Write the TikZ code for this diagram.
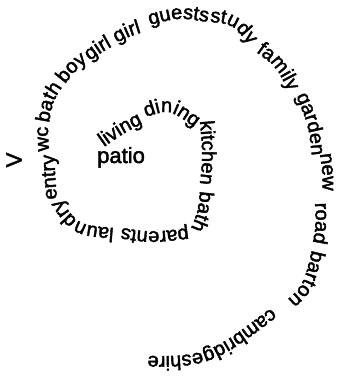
\documentclass[tikz,border=0pt]{standalone}
\usepackage{fontspec}
\setmainfont{Liberation Sans}[FakeBold=2]
\usepackage{tikz}
\usetikzlibrary{decorations.text}
\newcommand{\spiralfont}{\fontsize{20}{24}\selectfont}
\newcommand{\patiofont}{\fontsize{22}{26}\selectfont}
\tikzset{
  roomlabel/.style={inner sep=0pt, font=\patiofont},
  spiraltext/.style={decorate, decoration={text along path,
    text align={left indent=0pt}, text={|\spiralfont|#1}}}
}
\begin{document}
\begin{tikzpicture}[x=1pt, y=-1pt]
  \useasboundingbox (0,0) rectangle (339,383);

  % Centre and entrance mark
  \node[roomlabel, anchor=base west] (patio) at (97,163) {patio};
  \node[roomlabel, rotate=90] (entrance) at (14,160) {V};

  % Inner turn
  \path[spiraltext=living]  (104,147) .. controls (124,133) .. (150,120);
  \path[spiraltext=dining]  (146,117) .. controls (170,109) .. (199,131);
  \path[spiraltext=kitchen] (200,121) .. controls (203,158) .. (198,200);
  \path[spiraltext=bath]    (200,191) .. controls (198,212) .. (186,240);
  \path[spiraltext=parents] (188,228) .. controls (150,233) .. (100,224);
  \path[spiraltext=laundry] (114,228) .. controls (77,225) .. (55,190);
  \path[spiraltext=entry]   (57,199) .. controls (55,175) .. (54,140);
  \path[spiraltext=wc]      (49,151) .. controls (48,132) .. (48,112);

  % Outer turn
  \path[spiraltext=bath]    (49,123) .. controls (53,100) .. (70,76);
  \path[spiraltext=boy]     (65,84) .. controls (76,70) .. (95,56);
  \path[spiraltext=girl]    (90,61) .. controls (102,52) .. (120,42);
  \path[spiraltext=girl]    (117,43) .. controls (130,36) .. (150,30);
  \path[spiraltext=guests]  (150,25) .. controls (180,17) .. (218,24);
  \path[spiraltext=study]   (210,22) .. controls (234,24) .. (257,57);
  \path[spiraltext=family]  (256,52) .. controls (277,67) .. (295,105);
  \path[spiraltext=garden]  (296,96) .. controls (309,126) .. (313,168);
  \path[spiraltext=new]     (320,154) .. controls (323,176) .. (322,205);
  \path[spiraltext=road]    (315,203) .. controls (316,228) .. (310,256);
  \path[spiraltext=barton]  (312,250) .. controls (303,288) .. (270,313);
  \path[spiraltext=cambridgeshire] (271,308) .. controls (205,358) .. (120,355);

\end{tikzpicture}
\end{document}
